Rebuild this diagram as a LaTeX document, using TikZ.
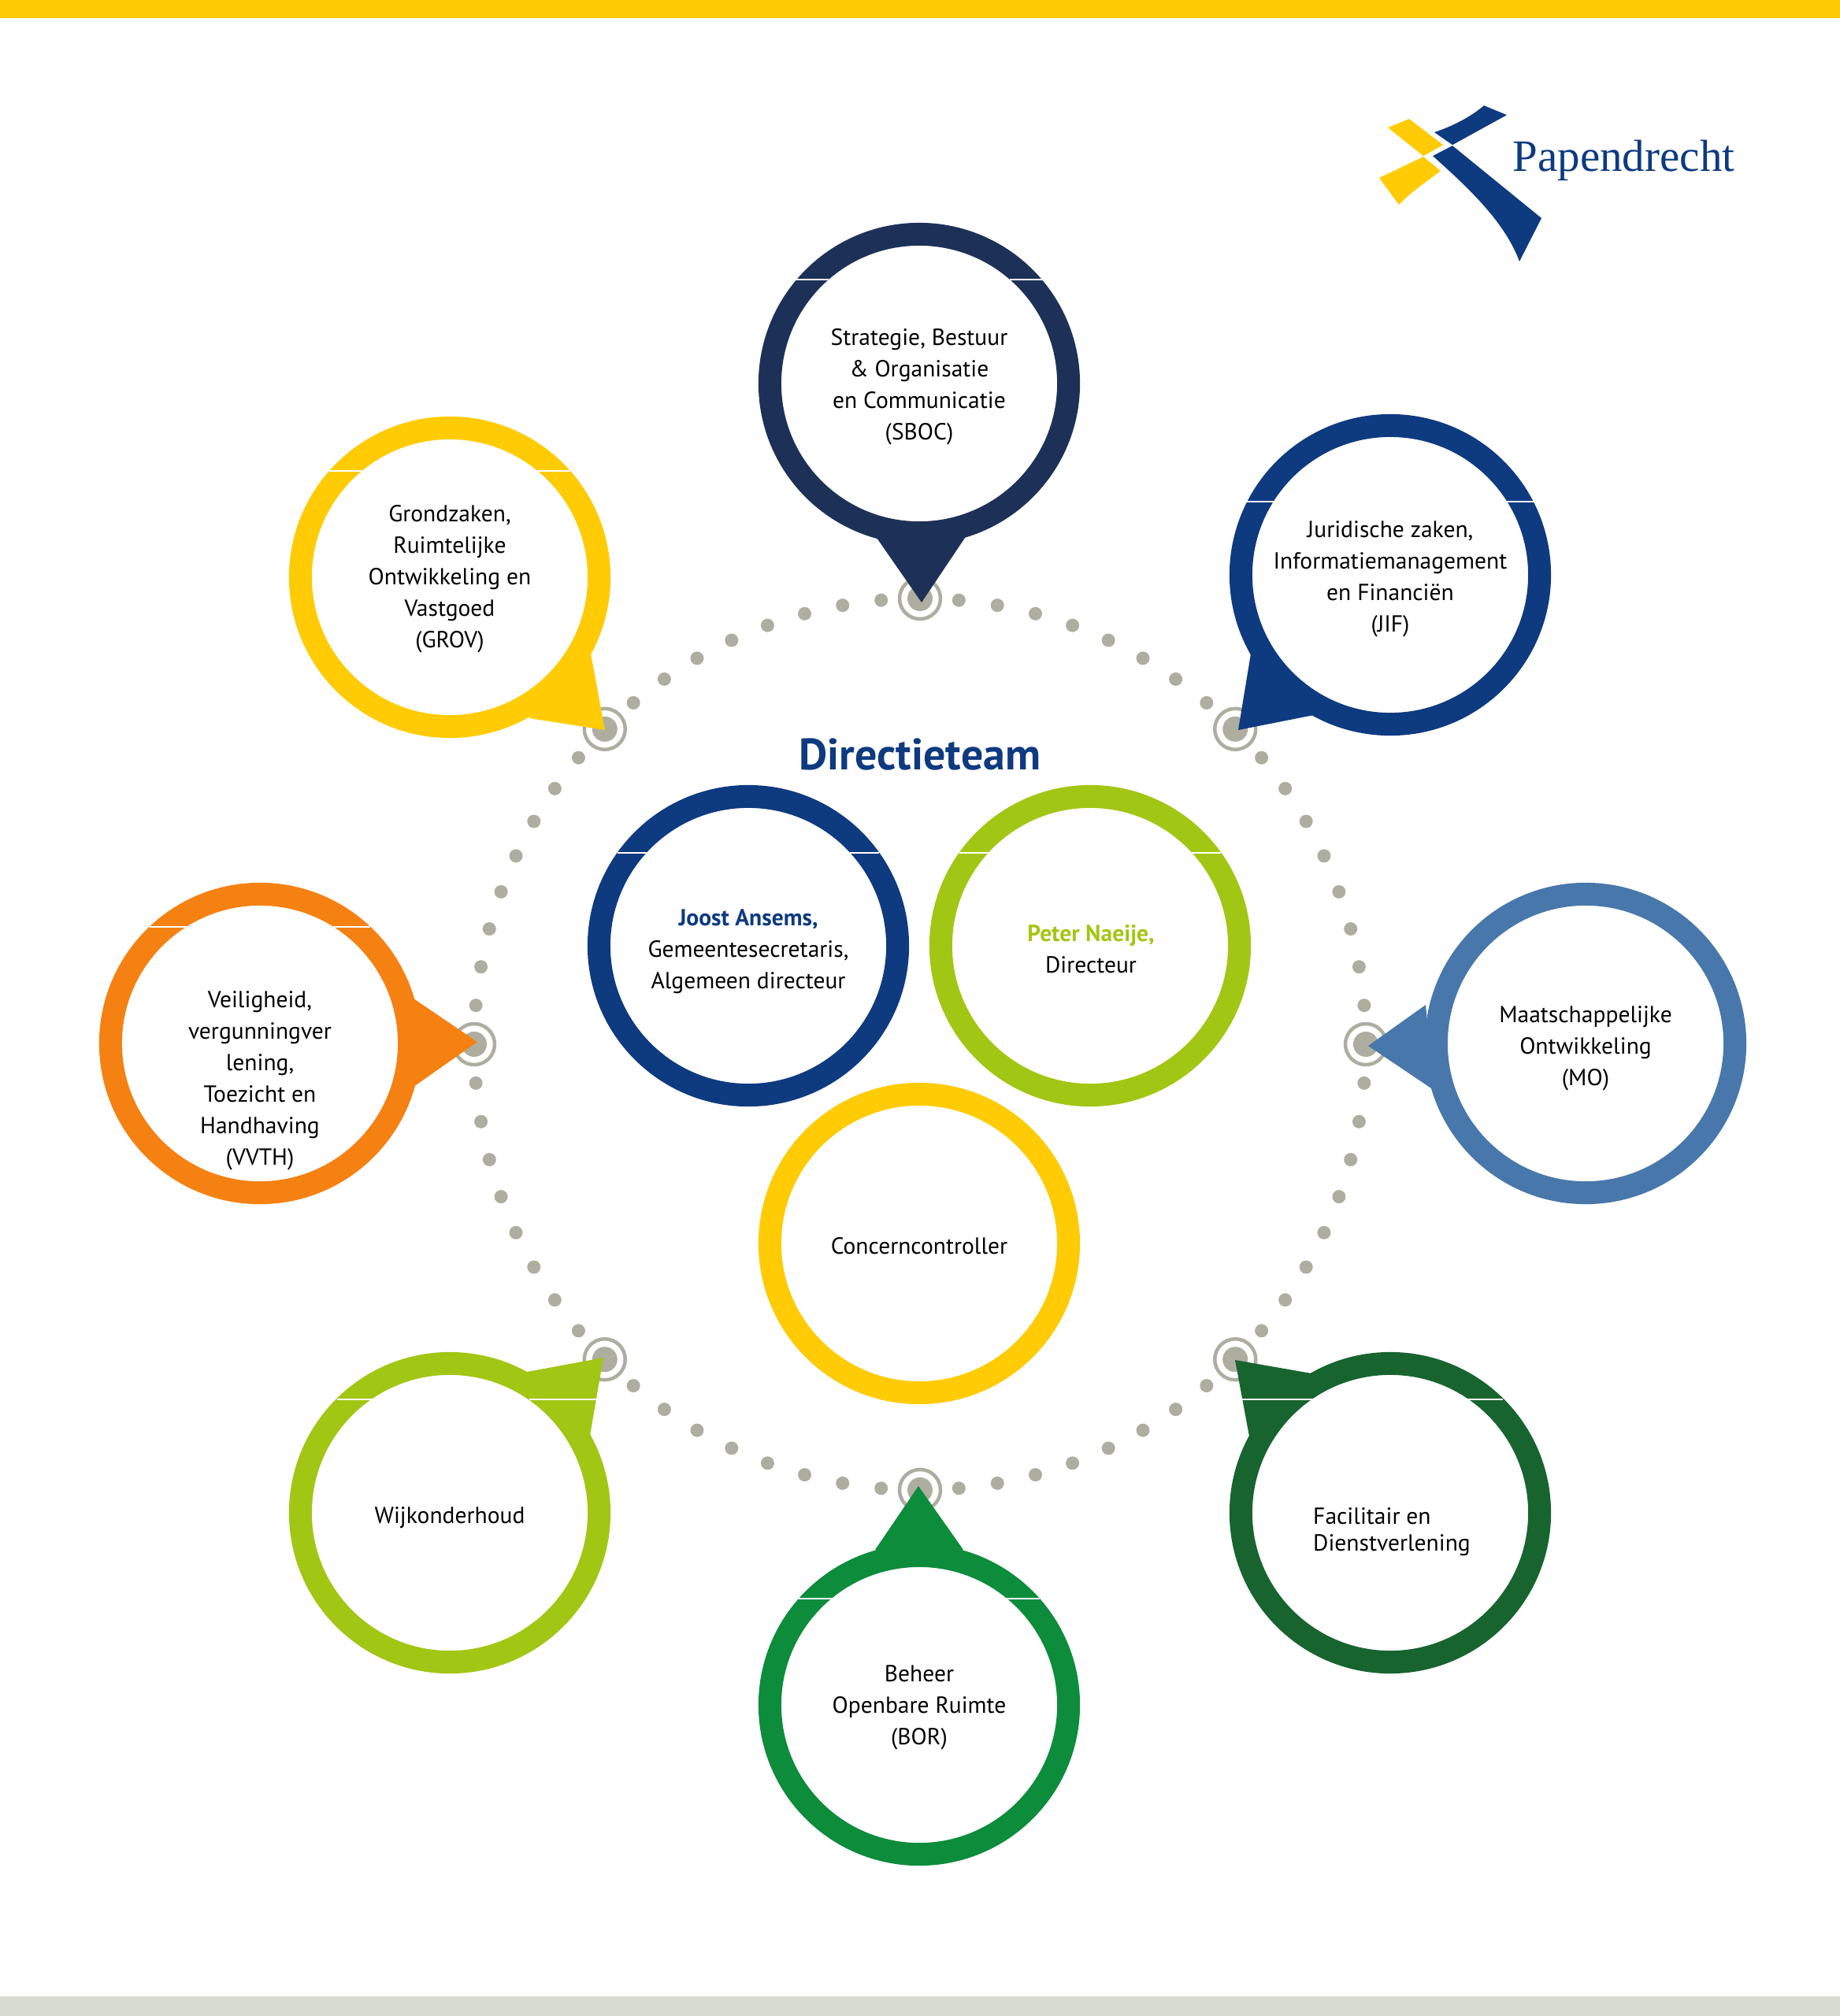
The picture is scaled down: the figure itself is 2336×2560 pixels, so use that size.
\documentclass[tikz,border=0pt]{standalone}
\usepackage{fontspec}
\setmainfont{PT Sans}
\newfontfamily\logofont{Liberation Serif}
\usetikzlibrary{calc}
\definecolor{navy}{HTML}{1D3158}
\definecolor{royal}{HTML}{0E3A80}
\definecolor{sunny}{HTML}{FFCB05}
\definecolor{lime}{HTML}{A2C614}
\definecolor{tangerine}{HTML}{F58113}
\definecolor{steel}{HTML}{4878AB}
\definecolor{forest}{HTML}{17642F}
\definecolor{grass}{HTML}{0D8C3C}
\definecolor{pebble}{HTML}{AEAEA0}
\definecolor{footer}{HTML}{D9DCD2}
\tikzset{%
	ring/.style     = {draw, circle, line width=0.29cm, minimum size=3.79cm, inner sep=0pt},
	ringtext/.style = {align=center, inner sep=0pt, font=\fontsize{8.4}{11.35}\selectfont},
	marker/.style   = {circle, fill=pebble, minimum size=0.32cm, inner sep=0pt},
	halo/.style     = {draw=pebble, line width=0.045cm},
	seam/.style     = {white, line width=0.015cm},
}

\begin{document}
\begin{tikzpicture}[x=0.01cm,y=-0.01cm]
	\useasboundingbox (0,0) rectangle (2336,2560);
	\fill[sunny] (0,0) rectangle (2336,23);  % top bar
	\fill[footer] (0,2535) rectangle (2336,2560);  % bottom bar
	% logo
	\fill[royal] (1821,168) .. controls (1850,158) and (1870,146) .. (1884,134) -- (1913,146) -- (1844,184) -- cycle;
	\fill[royal] (1844,185) -- (1957,277) -- (1929,332) .. controls (1910,280) and (1860,235) .. (1819,198) -- cycle;
	\fill[sunny] (1789,151) -- (1832,184) -- (1807,198) -- (1762,162) -- cycle;
	\fill[sunny] (1807,199) -- (1829,217) .. controls (1805,235) and (1790,245) .. (1776,260) -- (1751,226) -- cycle;
	\node[anchor=base west, inner sep=0pt, text=royal, font=\logofont\fontsize{16.2}{18}\selectfont] (logo) at (1920,217) {Papendrecht};
	% dotted circle with markers
	\coordinate (hub) at (1168,1326);
	\foreach \ang in {0,5,...,355}{
		\pgfmathparse{int(mod(\ang,45))}
		\ifnum\pgfmathresult=0\relax\else
			\fill[pebble] ($(hub)+(\ang:566)$) circle (8.5);
		\fi
	}
	\foreach \ang/\mk in {270/mtop,315/mjif,0/mmo,45/mfac,90/mbor,135/mwijk,180/mvvth,225/mgrov}{
		\node[marker] (\mk) at ($(hub)+(\ang:566)$) {};
		\draw[halo] (\mk) circle (26);
	}
	% pointers
	\fill[navy] (1113,683) -- (1170,765) -- (1225,683) -- cycle;
	\fill[royal] (1588,830) -- (1572,927) -- (1668,908) -- cycle;
	\fill[steel] (1810,1276) -- (1737,1328) -- (1820,1384) -- cycle;
	\fill[forest] (1665,1744) -- (1568,1727) -- (1586,1824) -- cycle;
	\fill[grass] (1111,1968) -- (1166,1887) -- (1223,1968) -- cycle;
	\fill[lime] (669,1742) -- (766,1724) -- (749,1823) -- cycle;
	\fill[tangerine] (525,1268) -- (606,1323) -- (525,1380) -- cycle;
	\fill[sunny] (750,830) -- (768,927) -- (672,912) -- cycle;
	% rings
	\node[ring,draw=navy] (sboc) at (1167,487) {};
	\node[ring,draw=royal] (jif) at (1765,730) {};
	\node[ring,draw=steel] (mo) at (2013,1325) {};
	\node[ring,draw=forest] (fac) at (1765,1921) {};
	\node[ring,draw=grass] (bor) at (1167,2165) {};
	\node[ring,draw=lime] (wijk) at (571,1921) {};
	\node[ring,draw=tangerine] (vvth) at (330,1325) {};
	\node[ring,draw=sunny] (grov) at (571,733) {};
	\node[ring,draw=royal] (joost) at (950,1201) {};
	\node[ring,draw=lime] (peter) at (1384,1201) {};
	\node[ring,draw=sunny] (control) at (1167,1579) {};
	% seams across the ring bands
	\foreach \nm/\off in {sboc/1.32,jif/0.93,bor/1.35,vvth/1.48,grov/1.35,joost/1.18,peter/1.18}{
		\draw[seam] ($(\nm)+({-100*sqrt(2.04*2.04-\off*\off)},{-100*\off})$) -- ($(\nm)+({-100*sqrt(1.75*1.75-\off*\off)},{-100*\off})$);
		\draw[seam] ($(\nm)+({100*sqrt(2.04*2.04-\off*\off)},{-100*\off})$) -- ($(\nm)+({100*sqrt(1.75*1.75-\off*\off)},{-100*\off})$);
	}
	\draw[seam] (672,1777) -- (758,1777);
	\draw[seam] (1577,1777) -- (1668,1777);
	\draw[seam] (1863,1777) -- (1908,1777);
	\draw[seam] (428,1777) -- (473,1777);
	% texts
	\node[ringtext] (sboctext) at (1167,491) {Strategie, Bestuur\\ \& Organisatie\\ en Communicatie\\ (SBOC)};
	\node[ringtext] (jiftext) at (1765,735) {Juridische zaken,\\ Informatiemanagement\\ en Financiën\\ (JIF)};
	\node[ringtext] (motext) at (2013,1331) {Maatschappelijke\\ Ontwikkeling\\ (MO)};
	\node[ringtext,align=left] (factext) at (1767,1945) {Facilitair en\\[-1.7pt] Dienstverlening};
	\node[ringtext] (bortext) at (1167,2168) {Beheer\\ Openbare Ruimte\\ (BOR)};
	\node[ringtext] (wijktext) at (571,1927) {Wijkonderhoud};
	\node[ringtext] (vvthtext) at (330,1372) {Veiligheid,\\ vergunningver\\ lening,\\ Toezicht en\\ Handhaving\\ (VVTH)};
	\node[ringtext] (grovtext) at (571,735) {Grondzaken,\\ Ruimtelijke\\ Ontwikkeling en\\ Vastgoed\\ (GROV)};
	\node[text=royal, inner sep=0pt, font=\bfseries\fontsize{15.9}{18}\selectfont] (title) at (1168,958) {Directieteam};
	\node[ringtext] (joosttext) at (950,1208) {\textcolor{royal}{\bfseries Joost Ansems,}\\ Gemeentesecretaris,\\ Algemeen directeur};
	\node[ringtext] (petertext) at (1385,1205) {\textcolor{lime}{\bfseries Peter Naeije,}\\ Directeur};
	\node[ringtext] (controltext) at (1167,1582) {Concerncontroller};
\end{tikzpicture}
\end{document}
